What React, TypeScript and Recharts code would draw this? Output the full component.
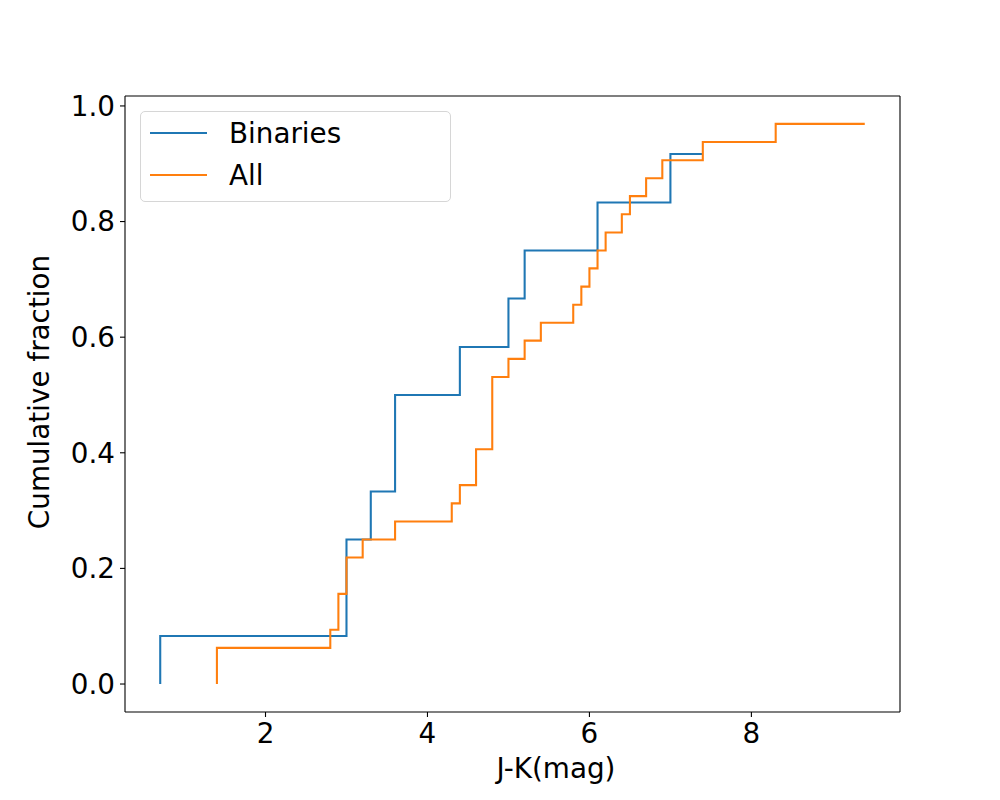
import { LineChart, Line, XAxis, YAxis, Legend, Label, CartesianGrid } from 'recharts'

// J-K colour (mag) and cumulative fraction at each step of the two samples
const BINARY_JK = [0.7, 3.0, 3.3, 3.6, 4.4, 5.0, 5.2, 6.1, 7.0, 7.4]
const BINARY_FRAC = [0, 0.083, 0.25, 0.333, 0.5, 0.583, 0.667, 0.75, 0.833, 0.917]

const ALL_JK = [
  1.4, 2.8, 2.9, 3.0, 3.2, 3.6, 4.3, 4.4, 4.6, 4.8, 5.0, 5.2, 5.4, 5.8, 5.9, 6.0, 6.1, 6.2, 6.4,
  6.5, 6.7, 6.9, 7.4, 8.3, 9.4,
]
const ALL_FRAC = [
  0, 0.0625, 0.094, 0.156, 0.219, 0.25, 0.281, 0.3125, 0.344, 0.406, 0.531, 0.5625, 0.594, 0.625,
  0.656, 0.6875, 0.719, 0.75, 0.781, 0.8125, 0.844, 0.875, 0.906, 0.9375, 0.969,
]

const SERIES = ['Binaries', 'All']
const X_TICKS = [2, 4, 6, 8]
const Y_TICKS = [0, 0.2, 0.4, 0.6, 0.8, 1.0]
const X_DOMAIN = [0.265, 9.835]
const Y_DOMAIN = [-0.0484, 1.0172]

const BLUE = '#1f77b4'
const ORANGE = '#ff7f0e'
const FONT = '"DejaVu Sans", sans-serif'
const FS = 27.8

const binaries = BINARY_JK.map((x, i) => ({ x, y: BINARY_FRAC[i] }))
const all = ALL_JK.map((x, i) => ({ x, y: ALL_FRAC[i] }))

function LegendBox({ payload }: any) {
  // keep plotting order instead of the alphabetical default
  const items = SERIES.map((name) => (payload ?? []).find((p: any) => p.value === name)).filter(Boolean)
  return (
    <div
      style={{
        width: 311,
        height: 91,
        boxSizing: 'border-box',
        border: '1px solid #d6d6d6',
        borderRadius: 5,
        background: 'rgba(255,255,255,0.8)',
      }}
    >
      <svg width={311} height={91} style={{ display: 'block', marginLeft: -1, marginTop: -1 }}>
        {items.map((p: any, i: number) => {
          const cy = 22 + i * 42
          return (
            <g key={p.value}>
              <line x1={10} x2={67} y1={cy} y2={cy} stroke={p.color} strokeWidth={2.08} />
              <text x={89} y={cy + 10} fontSize={FS} fontFamily={FONT} fill="#000">
                {p.value}
              </text>
            </g>
          )
        })}
      </svg>
    </div>
  )
}

export default function App() {
  const tickStyle = { fontSize: FS, fontFamily: FONT, fill: '#000' }
  return (
    <div style={{ position: 'absolute', left: 0, top: 0, width: 1000, height: 800, background: '#fff' }}>
      <LineChart width={1000} height={800} margin={{ top: 96, right: 100, bottom: 28, left: 25 }}>
        {/* top and right spines */}
        <CartesianGrid
          stroke="#000"
          strokeWidth={1.1}
          horizontalCoordinatesGenerator={({ offset }: any) => [offset.top]}
          verticalCoordinatesGenerator={({ offset }: any) => [offset.left + offset.width]}
        />
        <XAxis
          dataKey="x"
          type="number"
          domain={X_DOMAIN}
          allowDataOverflow
          ticks={X_TICKS}
          height={60}
          tick={tickStyle}
          tickSize={5}
          tickMargin={6}
          axisLine={{ stroke: '#000', strokeWidth: 1.1 }}
          tickLine={{ stroke: '#000', strokeWidth: 1.1 }}
        >
          <Label
            content={({ viewBox }: any) => (
              <text
                x={viewBox.x + 431}
                y={viewBox.y + 66}
                textAnchor="middle"
                fontSize={FS}
                fontFamily={FONT}
                fill="#000"
              >
                J-K(mag)
              </text>
            )}
          />
        </XAxis>
        <YAxis
          type="number"
          domain={Y_DOMAIN}
          allowDataOverflow
          ticks={Y_TICKS}
          width={100}
          tick={tickStyle}
          tickSize={5}
          tickMargin={5}
          tickFormatter={(v: number) => v.toFixed(1)}
          axisLine={{ stroke: '#000', strokeWidth: 1.1 }}
          tickLine={{ stroke: '#000', strokeWidth: 1.1 }}
        >
          <Label
            content={({ viewBox }: any) => (
              <text
                x={viewBox.x + 24}
                y={392}
                transform={`rotate(-90 ${viewBox.x + 24} 392)`}
                textAnchor="middle"
                fontSize={FS}
                fontFamily={FONT}
                fill="#000"
              >
                Cumulative fraction
              </text>
            )}
          />
        </YAxis>
        <Legend
          layout="vertical"
          align="center"
          verticalAlign="middle"
          wrapperStyle={{ left: 140, top: 111, width: 311 }}
          content={<LegendBox />}
        />
        <Line
          data={binaries}
          dataKey="y"
          name="Binaries"
          type="stepBefore"
          stroke={BLUE}
          strokeWidth={2.08}
          dot={false}
          activeDot={false}
          isAnimationActive={false}
        />
        <Line
          data={all}
          dataKey="y"
          name="All"
          type="stepBefore"
          stroke={ORANGE}
          strokeWidth={2.08}
          dot={false}
          activeDot={false}
          isAnimationActive={false}
        />
      </LineChart>
    </div>
  )
}
